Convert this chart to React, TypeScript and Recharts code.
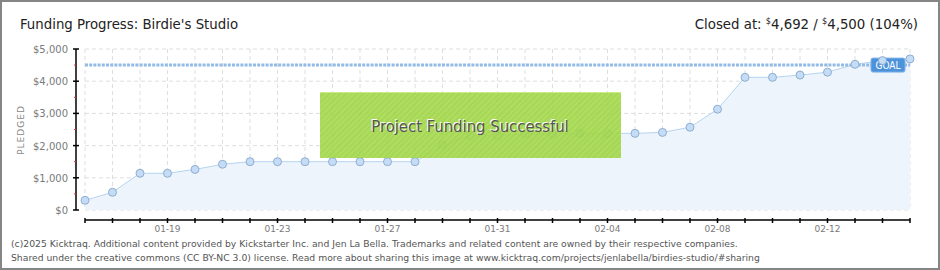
import React from "react";
import { Area, CartesianGrid, ComposedChart, ReferenceLine, XAxis, YAxis } from "recharts";

const DAYS = [
  "01-16", "01-17", "01-18", "01-19", "01-20", "01-21", "01-22", "01-23", "01-24", "01-25",
  "01-26", "01-27", "01-28", "01-29", "01-30", "01-31", "02-01", "02-02", "02-03", "02-04",
  "02-05", "02-06", "02-07", "02-08", "02-09", "02-10", "02-11", "02-12", "02-13", "02-14", "02-15",
];
const PLEDGED = [
  300, 550, 1140, 1140, 1260, 1420, 1500, 1500, 1500, 1500,
  1500, 1500, 1500, 2020, 2310, 2310, 2360, 2360, 2380, 2380,
  2380, 2410, 2570, 3130, 4120, 4120, 4190, 4280, 4525, 4640, 4692,
];
const SHOWN_DAYS = ["01-19", "01-23", "01-27", "01-31", "02-04", "02-08", "02-12"];
const Y_TICKS = [0, 500, 1000, 1500, 2000, 2500, 3000, 3500, 4000, 4500, 5000];
const Y_GRID = [0, 1000, 2000, 3000, 4000, 5000];
const GOAL = 4500;
const CLOSED = 4692;

const data = DAYS.map((day, i) => ({ day, pledged: PLEDGED[i] }));

// chart box
const W = 940;
const H = 270;
const MARGIN = { top: 49, right: 30, bottom: 40, left: 0 };
const X_AXIS_H = 20;
const PLOT_H = H - MARGIN.top - MARGIN.bottom - X_AXIS_H;

const COND = "'DejaVu Sans Condensed', 'DejaVu Sans', sans-serif";
const SANS = "'DejaVu Sans', sans-serif";
const fmt = (v: number) => "$" + v.toLocaleString("en-US");

function YTick({ y, payload }: any) {
  const v = payload.value as number;
  if (v % 1000 !== 0) {
    return <line x1={74} x2={76} y1={y} y2={y} stroke="#d33" strokeWidth={1} />;
  }
  return (
    <g>
      {v === 0 && <line x1={76} x2={76} y1={y} y2={y - PLOT_H} stroke="#000" strokeWidth={1.5} />}
      <line x1={73} x2={79} y1={y} y2={y} stroke="#000" strokeWidth={1.5} />
      <text x={68} y={y + 4} textAnchor="end" fontSize={10} fill="#7a7a7a" fontFamily={SANS}>
        {fmt(v)}
      </text>
    </g>
  );
}

function XTick({ x, y, payload }: any) {
  const lbl = payload.value as string;
  return (
    <g>
      <line x1={x} x2={x} y1={y + 8} y2={y + 13} stroke="#000" strokeWidth={1.5} />
      {SHOWN_DAYS.includes(lbl) && (
        <text x={x} y={y + 22} textAnchor="middle" fontSize={9} fill="#7a7a7a" fontFamily={SANS}>
          {lbl}
        </text>
      )}
    </g>
  );
}

function GoalLabel({ viewBox }: any) {
  const { x, y, width } = viewBox;
  const right = x + width - 5;
  return (
    <g>
      <rect x={right - 34} y={y - 7} width={34} height={14} rx={2} fill="#4d93dc" stroke="#7fb2e8" />
      <text x={right - 17} y={y + 4} textAnchor="middle" fontSize={10} fill="#fff" fontFamily={COND}>
        GOAL
      </text>
    </g>
  );
}

export default function App() {
  return (
    <div
      style={{
        position: "fixed", left: 0, top: 0, width: W, height: H, boxSizing: "border-box",
        border: "2px solid #858585", background: "#fff", overflow: "hidden",
      }}
    >
      <div style={{ position: "absolute", left: -2, top: -2 }}>
        <ComposedChart width={W} height={H} data={data} margin={MARGIN}>
          <CartesianGrid stroke="#dedede" strokeDasharray="4 3" horizontalValues={Y_GRID} />
          <XAxis
            dataKey="day"
            interval={0}
            height={X_AXIS_H}
            tickSize={0}
            tickMargin={0}
            tickLine={false}
            tick={<XTick />}
            axisLine={{ stroke: "#000", strokeWidth: 1.5, transform: "translate(0,10)" }}
          />
          <YAxis
            width={85}
            domain={[0, 5000]}
            ticks={Y_TICKS}
            interval={0}
            tickLine={false}
            tick={<YTick />}
            axisLine={false}
          />
          <ReferenceLine y={GOAL} stroke="#92bbe6" strokeWidth={3} strokeDasharray="3 1.2" label={<GoalLabel />} />
          <Area
            type="linear"
            dataKey="pledged"
            stroke="#b5d4f2"
            strokeWidth={1}
            fill="#edf4fc"
            fillOpacity={1}
            dot={{ r: 4, fill: "#c4dcf6", stroke: "#8eaed0", strokeWidth: 1, fillOpacity: 1 }}
            isAnimationActive={false}
          />
        </ComposedChart>
      </div>

      <div
        style={{
          position: "absolute", left: 318, top: 90, width: 301, height: 66,
          background: "repeating-linear-gradient(135deg, rgba(166,218,76,0.9) 0 2px, rgba(158,211,70,0.9) 2px 4px)",
          borderTop: "1px solid #c9ec88", boxSizing: "border-box",
        }}
      />

      <svg width={W} height={H} style={{ position: "absolute", left: -2, top: -2, pointerEvents: "none" }}>
        <text
          x={20} y={134} textAnchor="middle" fontSize={9} letterSpacing={1} fill="#888"
          fontFamily={SANS} transform="rotate(-90 20 130)"
        >
          PLEDGED
        </text>
        <text x={20} y={29} fontSize={14.8} fill="#222" fontFamily={COND}>
          Funding Progress: Birdie's Studio
        </text>
        <text x={918} y={29} textAnchor="end" fontSize={14.8} fill="#222" fontFamily={COND}>
          Closed at:{"  "}
          <tspan fontSize={9} dy={-5}>$</tspan>
          <tspan dy={5}>{CLOSED.toLocaleString("en-US")} / </tspan>
          <tspan fontSize={9} dy={-5}>$</tspan>
          <tspan dy={5}>{GOAL.toLocaleString("en-US")} ({Math.round((CLOSED / GOAL) * 100)}%)</tspan>
        </text>
        <text x={470} y={132} textAnchor="middle" fontSize={16.5} fill="#fff" fontFamily={COND} dx={-1} dy={-1}>
          Project Funding Successful
        </text>
        <text x={470} y={132} textAnchor="middle" fontSize={16.5} fill="#555" fontFamily={COND}>
          Project Funding Successful
        </text>
        <text x={11} y={247} fontSize={9.25} fill="#555" fontFamily={SANS}>
          (c)2025 Kicktraq. Additional content provided by Kickstarter Inc. and Jen La Bella. Trademarks and related content are owned by their respective companies.
        </text>
        <text x={11} y={261} fontSize={9.25} fill="#555" fontFamily={SANS}>
          Shared under the creative commons (CC BY-NC 3.0) license. Read more about sharing this image at www.kicktraq.com/projects/jenlabella/birdies-studio/#sharing
        </text>
      </svg>
    </div>
  );
}
